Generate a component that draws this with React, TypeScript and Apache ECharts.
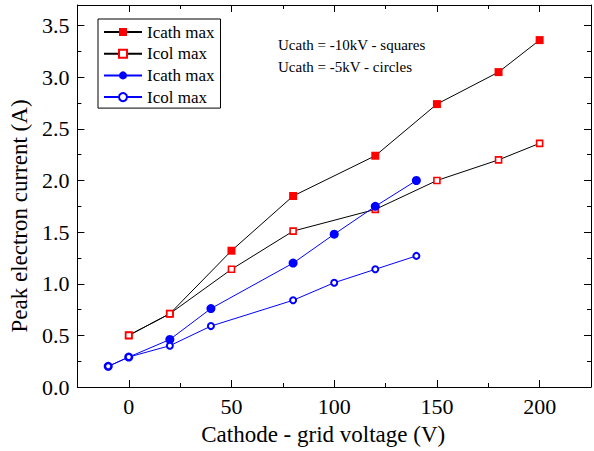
import React, { useEffect, useRef } from "react";
import * as echarts from "echarts";

const xRed = [0, 20, 50, 80, 120, 150, 180, 200];
const icathRed = [0.5, 0.71, 1.32, 1.85, 2.24, 2.74, 3.05, 3.36];
const icolRed = [0.5, 0.71, 1.14, 1.51, 1.72, 2.0, 2.2, 2.36];
const xBlue = [-10, 0, 20, 40, 80, 100, 120, 140];
const icathBlue = [0.2, 0.29, 0.46, 0.76, 1.2, 1.48, 1.75, 2.0];
const icolBlue = [0.2, 0.29, 0.4, 0.59, 0.84, 1.01, 1.14, 1.27];

const xMajor = [0, 50, 100, 150, 200];
const xMinor = [25, 75, 125, 175];
const yMajor = [0, 0.5, 1, 1.5, 2, 2.5, 3, 3.5];
const yMinor = [0.25, 0.75, 1.25, 1.75, 2.25, 2.75, 3.25];

const legendNames = ["Icath max", "Icol max", "Icath max", "Icol max"];
const notes = ["Ucath = -10kV - squares", "Ucath = -5kV - circles"];

const FONT = "Liberation Serif";

export default function App() {
  const ref = useRef<HTMLDivElement>(null);
  useEffect(() => {
    if (!ref.current) return;
    const chart = echarts.init(ref.current, null, { renderer: "svg" });
    const zip = (xs: number[], ys: number[]) => xs.map((x, i) => [x, ys[i]]);
    const ids = ["a", "b", "c", "d"];
    const keyName = (i: number) => legendNames[i] + " #" + ids[i];

    const xBase = (pos: "top" | "bottom", ticks: number[], len: number, labels: boolean, line: boolean) => ({
      type: "value",
      position: pos,
      min: -25,
      max: 225,
      gridIndex: 0,
      splitLine: { show: false },
      axisLine: { show: line, onZero: false, lineStyle: { color: "#000", width: 1 } },
      axisTick: { show: true, inside: true, length: len, customValues: ticks, lineStyle: { color: "#000", width: 1 } },
      axisLabel: labels
        ? { show: true, customValues: xMajor, fontFamily: FONT, fontSize: 22, color: "#000", margin: 8 }
        : { show: false },
    });
    const yBase = (pos: "left" | "right", ticks: number[], len: number, labels: boolean, line: boolean) => ({
      type: "value",
      position: pos,
      min: 0,
      max: 3.7,
      gridIndex: 0,
      splitLine: { show: false },
      axisLine: { show: line, onZero: false, lineStyle: { color: "#000", width: 1 } },
      axisTick: { show: true, inside: true, length: len, customValues: ticks, lineStyle: { color: "#000", width: 1 } },
      axisLabel: labels
        ? {
            show: true,
            customValues: yMajor,
            formatter: (v: number) => v.toFixed(1),
            fontFamily: FONT,
            fontSize: 22,
            color: "#000",
            margin: 8,
          }
        : { show: false },
    });

    const xMain: any = xBase("bottom", xMajor, 7, true, true);
    xMain.name = "Cathode - grid voltage (V)";
    xMain.nameLocation = "middle";
    xMain.nameGap = 36;
    xMain.nameTextStyle = { fontFamily: FONT, fontSize: 23, color: "#000", padding: [0, 22, 0, 0] };
    const yMain: any = yBase("left", yMajor, 7, true, true);
    yMain.name = "Peak electron current (A)";
    yMain.nameLocation = "middle";
    yMain.nameGap = 44;
    yMain.nameTextStyle = { fontFamily: FONT, fontSize: 23, color: "#000", padding: [0, 40, 0, 0] };

    chart.setOption({
      animation: false,
      backgroundColor: "#fff",
      grid: { left: 76, right: 3, top: 5, bottom: 62, containLabel: false },
      xAxis: [
        xMain,
        xBase("bottom", xMinor, 4, false, false),
        xBase("top", xMajor, 7, false, true),
        xBase("top", xMinor, 4, false, false),
      ],
      yAxis: [
        yMain,
        yBase("left", yMinor, 4, false, false),
        yBase("right", yMajor, 7, false, true),
        yBase("right", yMinor, 4, false, false),
      ],
      legend: {
        orient: "vertical",
        left: 98,
        top: 19,
        padding: [4, 6, 2, 5],
        itemGap: 3.7,
        itemWidth: 38,
        itemHeight: 10,
        borderColor: "#000",
        borderWidth: 1,
        backgroundColor: "#fff",
        data: ids.map((_, i) => keyName(i)),
        formatter: (name: string) => name.split(" #")[0],
        textStyle: { fontFamily: FONT, fontSize: 17, color: "#000", lineHeight: 18 },
      },
      graphic: notes.map((t, i) => ({
        type: "text",
        x: 278,
        y: 45 + i * 22,
        style: { text: t, font: `15px "${FONT}"`, fill: "#000", verticalAlign: "middle", align: "left" },
      })),
      series: [
        {
          name: keyName(0),
          type: "line",
          data: zip(xRed, icathRed),
          symbol: "rect",
          symbolSize: 8,
          itemStyle: { color: "#ff0000" },
          lineStyle: { color: "#000", width: 1 },
        },
        {
          name: keyName(1),
          type: "line",
          data: zip(xRed, icolRed),
          symbol: "rect",
          symbolSize: 6,
          itemStyle: { color: "#fff", borderColor: "#ff0000", borderWidth: 1.6 },
          lineStyle: { color: "#000", width: 1 },
        },
        {
          name: keyName(2),
          type: "line",
          data: zip(xBlue, icathBlue),
          symbol: "circle",
          symbolSize: 9,
          itemStyle: { color: "#0000ff" },
          lineStyle: { color: "#0000ff", width: 1 },
        },
        {
          name: keyName(3),
          type: "line",
          data: zip(xBlue, icolBlue),
          symbol: "circle",
          symbolSize: 6,
          itemStyle: { color: "#fff", borderColor: "#0000ff", borderWidth: 2 },
          lineStyle: { color: "#0000ff", width: 1 },
        },
      ],
    });
    return () => chart.dispose();
  }, []);
  return <div ref={ref} style={{ position: "fixed", left: 0, top: 0, width: 594, height: 451 }} />;
}
